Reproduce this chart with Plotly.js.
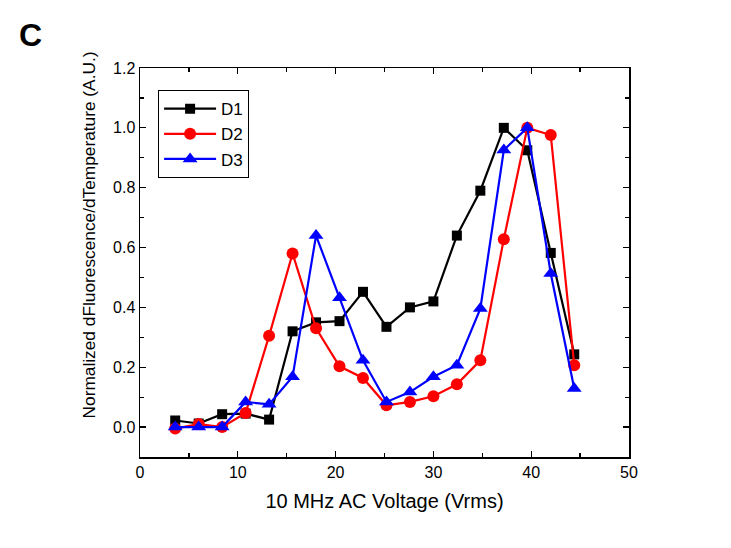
<!DOCTYPE html>
<html>
<head>
<meta charset="utf-8">
<script src="https://cdn.plot.ly/plotly-3.0.1.min.js"></script>
<style>html,body{margin:0;padding:0;background:#fff;}#chart{width:731px;height:548px;}</style>
</head>
<body>
<div id="chart"></div>
<script>
const voltage = [3.6, 6.0, 8.4, 10.8, 13.2, 15.6, 18.0, 20.4, 22.8, 25.2, 27.6, 30.0, 32.4, 34.8, 37.2, 39.6, 42.0, 44.4];
const d1 = [0.022, 0.012, 0.043, 0.045, 0.025, 0.32, 0.35, 0.354, 0.452, 0.335, 0.40, 0.42, 0.64, 0.79, 1.00, 0.925, 0.582, 0.243];
const d2 = [-0.005, 0.01, 0.0, 0.047, 0.305, 0.58, 0.33, 0.203, 0.164, 0.073, 0.084, 0.103, 0.143, 0.223, 0.628, 1.0, 0.976, 0.207];
const d3 = [0.0, 0.0, 0.0, 0.084, 0.076, 0.168, 0.64, 0.432, 0.223, 0.084, 0.117, 0.168, 0.207, 0.396, 0.926, 1.0, 0.513, 0.129];
const seriesNames = ['D1', 'D2', 'D3'];
const xTitle = '10 MHz AC Voltage (Vrms)';
const yTitle = 'Normalized dFluorescence/dTemperature (A.U.)';
const panelLabel = 'C';

const font = 'Arial, "Liberation Sans", sans-serif';
const traces = [
  {x: voltage, y: d1, name: seriesNames[0], mode: 'lines+markers', line: {color: '#000000', width: 2.2}, marker: {symbol: 'square', size: 10, color: '#000000'}},
  {x: voltage, y: d2, name: seriesNames[1], mode: 'lines+markers', line: {color: '#ff0000', width: 2.2}, marker: {symbol: 'circle', size: 12, color: '#ff0000'}},
  {x: voltage, y: d3, name: seriesNames[2], mode: 'lines+markers', line: {color: '#0000ff', width: 2.2}, marker: {symbol: 'triangle-up', size: 13, color: '#0000ff'}}
];
const axisCommon = {
  showline: true, linecolor: '#000', linewidth: 1.5, mirror: 'ticks',
  ticks: 'inside', ticklen: 6, tickwidth: 1.2, tickcolor: '#000',
  showgrid: false, zeroline: false,
  tickfont: {family: font, size: 16, color: '#000'}
};
const layout = {
  width: 731, height: 548,
  margin: {l: 140, r: 102, t: 68, b: 91},
  paper_bgcolor: '#fff', plot_bgcolor: '#fff',
  font: {family: font, color: '#000'},
  showlegend: true,
  legend: {x: 0.037, y: 0.943, xanchor: 'left', yanchor: 'top', bordercolor: '#000', borderwidth: 1, bgcolor: '#fff',
           font: {family: font, size: 17, color: '#000'}, tracegroupgap: 0, itemwidth: 52},
  xaxis: Object.assign({}, axisCommon, {
    range: [0, 50], dtick: 10, tick0: 0,
    minor: {ticks: 'inside', dtick: 5, ticklen: 4, tickcolor: '#000'},
    title: {text: xTitle, font: {family: font, size: 20, color: '#000'}, standoff: 14}
  }),
  yaxis: Object.assign({}, axisCommon, {
    range: [-0.1, 1.2], dtick: 0.2, tick0: 0, tickformat: '.1f',
    minor: {ticks: 'inside', dtick: 0.1, ticklen: 4, tickcolor: '#000'}
  }),
  annotations: [
    {text: '<b>' + panelLabel + '</b>', xref: 'paper', yref: 'paper', x: -0.223, y: 1.084, xanchor: 'center', yanchor: 'middle', showarrow: false, font: {family: font, size: 32, color: '#000'}},
    {text: yTitle, xref: 'paper', yref: 'paper', x: -0.104, y: 0.57, xanchor: 'center', yanchor: 'middle', textangle: -90, showarrow: false, font: {family: font, size: 17.3, color: '#000'}}
  ]
};
Plotly.newPlot('chart', traces, layout, {displayModeBar: false, staticPlot: true});
</script>
</body>
</html>
